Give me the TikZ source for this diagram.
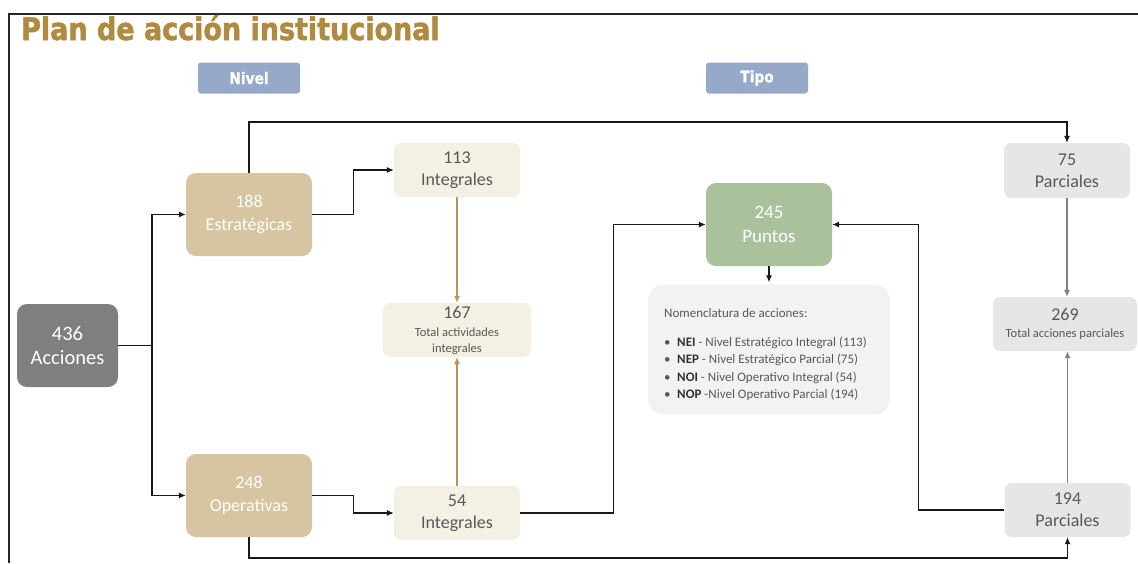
\documentclass[tikz,border=0pt]{standalone}
\usepackage{fontspec}
\setmainfont{Carlito}
\newfontfamily\titlefont{DejaVu Sans}[FakeStretch=0.87, FakeBold=1.6, UprightFont=*-Bold]
\newfontfamily\headfont{DejaVu Sans}[FakeStretch=0.86, FakeBold=0.6, UprightFont=*-Bold]
\usetikzlibrary{arrows.meta,calc}
\definecolor{titlec}{HTML}{B08A3E}
\definecolor{headc}{HTML}{97A9C9}
\definecolor{accc}{HTML}{7F7F7F}
\definecolor{tanc}{HTML}{D7C4A0}
\definecolor{creamc}{HTML}{F4F0E4}
\definecolor{greenc}{HTML}{A9C29B}
\definecolor{grayc}{HTML}{E6E6E6}
\definecolor{nomc}{HTML}{F2F2F2}
\definecolor{txtc}{HTML}{595959}
\definecolor{goldarr}{HTML}{BF9650}
\definecolor{grayarr}{HTML}{808080}
\newcommand{\bigtxt}{\fontsize{18}{23}\selectfont}
\newcommand{\smalltxt}{\fontsize{12.5}{16}\selectfont}
\tikzset{
  bigbox/.style={rounded corners=10pt, inner sep=0pt, align=center, text=white,
    font=\fontsize{18}{23}\selectfont},
  smallbox/.style={rounded corners=7pt, inner sep=0pt, align=center, text=txtc,
    font=\fontsize{18}{22}\selectfont},
  headbox/.style={fill=headc, rounded corners=3pt, inner sep=0pt, text=white,
    minimum width=102pt, minimum height=31pt,
    font=\headfont\fontsize{16}{16}\selectfont},
  conn/.style={line width=1.1pt, black!90},
  arr/.style={conn, -{Latex[length=7pt,width=6pt]}},
  goldline/.style={line width=1.1pt, goldarr, -{Latex[length=7pt,width=6pt]}},
  grayline/.style={line width=1.1pt, grayarr, -{Latex[length=7pt,width=6pt]}},
}
\begin{document}
\begin{tikzpicture}[x=1pt,y=-1pt]
\useasboundingbox (0,0) rectangle (1138,563);
\fill[white] (0,0) rectangle (1138,563);
% frame
\draw[line width=2pt, black!85] (9,563) -- (9,14) -- (1138,14);
% title
\node[anchor=base west, inner sep=0pt, text=titlec,
  font=\titlefont\fontsize{31}{31}\selectfont] (title) at (21,40) {Plan de acción institucional};
% header boxes
\node[headbox] (nivel) at (249,78) {Nivel};
\node[headbox] (tipo) at (757,78) {Tipo};
% main nodes
\node[bigbox, fill=accc, minimum width=101pt, minimum height=83pt,
  font=\fontsize{20.5}{24}\selectfont] (acc) at (67.5,345.5) {436\\Acciones};
\node[bigbox, fill=tanc, minimum width=126pt, minimum height=83pt] (est) at (249,214.5) {188\\Estratégicas};
\node[bigbox, fill=tanc, minimum width=126pt, minimum height=83pt] (ope) at (249,495.5) {248\\Operativas};
\node[smallbox, fill=creamc, minimum width=126pt, minimum height=54pt] (i113) at (457,170) {113\\Integrales};
\node[smallbox, fill=creamc, minimum width=148pt, minimum height=54pt] (t167) at (457,330)
  {\bigtxt 167\\[-4pt]\smalltxt Total actividades\\[-6pt]\smalltxt integrales};
\node[smallbox, fill=creamc, minimum width=126pt, minimum height=54pt] (i54) at (457,513) {54\\Integrales};
\node[bigbox, fill=greenc, minimum width=126pt, minimum height=83pt,
  font=\fontsize{19}{24}\selectfont] (pun) at (769,224.5) {245\\Puntos};
\node[fill=nomc, rounded corners=16pt, minimum width=242pt, minimum height=130pt, inner sep=0pt] (nom) at (769,349.5) {};
\node[anchor=north west, inner sep=0pt, align=left, text=txtc,
  font=\fontsize{13}{17.3}\selectfont] (nomt) at (664,308)
  {Nomenclatura de acciones:\\[12pt]
   \makebox[13pt][l]{\textbullet}\textbf{\color{black!80}NEI} - Nivel Estratégico Integral (113)\\
   \makebox[13pt][l]{\textbullet}\textbf{\color{black!80}NEP} - Nivel Estratégico Parcial (75)\\
   \makebox[13pt][l]{\textbullet}\textbf{\color{black!80}NOI} - Nivel Operativo Integral (54)\\
   \makebox[13pt][l]{\textbullet}\textbf{\color{black!80}NOP} -Nivel Operativo Parcial (194)};
\node[smallbox, fill=grayc, minimum width=126pt, minimum height=55pt] (p75) at (1067,170.5) {75\\Parciales};
\node[smallbox, fill=grayc, minimum width=144pt, minimum height=54pt] (t269) at (1065,324)
  {\bigtxt 269\\[-5pt]\smalltxt Total acciones parciales};
\node[smallbox, fill=grayc, minimum width=126pt, minimum height=54pt] (p194) at (1067.5,510) {194\\Parciales};
% helper coordinates
\coordinate (j) at (152,345.5);
\coordinate (topy) at (0,122);
\coordinate (boty) at (0,558);
% connectors
\draw[conn] (acc.east) -- (j);
\draw[arr] (j) |- (est.west);
\draw[arr] (j) |- (ope.west);
\draw[arr] (est.east) -- ++(41,0) |- (i113.west);
\draw[arr] (ope.east) -- ++(41,0) |- (i54.west);
\draw[goldline] (i113.south) -- (t167.north);
\draw[goldline] (i54.north) -- (t167.south);
\draw[arr] (i54.east) -- ++(93,0) |- (pun.west);
\draw[arr] (p194.west) -- ++(-86,0) |- (pun.east);
\draw[arr, shorten >=2pt] (pun.south) -- (nom.north);
\draw[arr] (est.north) -- (est.north |- topy) -| (p75.north);
\draw[arr] (ope.south) -- (ope.south |- boty) -| (p194.south);
\draw[grayline] (p75.south) -- (p75.south |- t269.north);
\draw[grayline] (p194.north) -- (p194.north |- t269.south);
\end{tikzpicture}
\end{document}
